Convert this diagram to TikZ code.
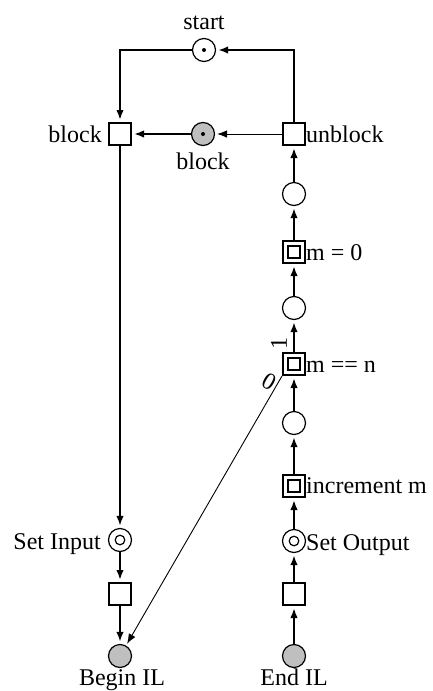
\documentclass[tikz,border=0pt]{standalone}
\usepackage{fontspec}
\setmainfont{Liberation Serif}
\usetikzlibrary{arrows.meta}
\begin{document}
\begin{tikzpicture}[x=1pt,y=-1pt,
  every node/.style={font=\fontsize{24}{28}\selectfont},
  place/.style={circle,draw,line width=1.2pt,minimum size=23pt,inner sep=0pt},
  gplace/.style={place,fill=black!25},
  token/.style={path picture={\fill[black] (path picture bounding box.center) circle (2pt);}},
  ring/.style={path picture={\draw[line width=1.2pt] (path picture bounding box.center) circle (4.8pt);}},
  trans/.style={rectangle,draw,line width=2pt,minimum size=22pt,inner sep=0pt},
  dtrans/.style={trans,path picture={\draw[line width=2pt] ([shift={(-5.6pt,-5.6pt)}]path picture bounding box.center) rectangle ([shift={(5.6pt,5.6pt)}]path picture bounding box.center);}},
  arc/.style={line width=2pt,-{Latex[length=10pt,width=7.5pt]},shorten >=2pt},
  tarc/.style={line width=0.9pt,-{Latex[length=10pt,width=7.5pt]},shorten >=2pt},
  lbl/.style={inner sep=0pt}
]
\useasboundingbox (0,0) rectangle (432,691);
% nodes
\node[place,token] (start) at (204,50) {};
\node[gplace,token] (bp) at (203,134) {};
\node[trans] (bt) at (120,134) {};
\node[trans] (ub) at (294,134) {};
\node[place] (p1) at (294,194) {};
\node[dtrans] (t1) at (294,252) {};
\node[place] (p2) at (294,308) {};
\node[dtrans] (t2) at (294,364) {};
\node[place] (p3) at (294,423) {};
\node[dtrans] (t3) at (294,486) {};
\node[place,ring] (so) at (294,541) {};
\node[trans] (t4) at (294,594) {};
\node[gplace] (endil) at (294,656) {};
\node[place,ring] (si) at (120,540) {};
\node[trans] (t5) at (120,594) {};
\node[gplace] (beginil) at (120,656) {};
% labels
\node[lbl,anchor=base] (lstart) at (204,29) {start};
\node[lbl,anchor=base] (lbp) at (203,169) {block};
\node[lbl,anchor=base east] (lbt) at (102,142) {block};
\node[lbl,anchor=base west] (lub) at (306,142) {unblock};
\node[lbl,anchor=base west] (lt1) at (306,260) {m = 0};
\node[lbl,anchor=base west] (lt2) at (306,372) {m == n};
\node[lbl,anchor=base west] (lt3) at (306,493) {increment m};
\node[lbl,anchor=base west] (lso) at (306,550) {Set Output};
\node[lbl,anchor=base east] (lsi) at (101,549) {Set Input};
\node[lbl,anchor=base] (lbi) at (122,685) {Begin IL};
\node[lbl,anchor=base] (lei) at (294,685) {End IL};
\node[lbl,rotate=90] (l1) at (279,343) {1};
\node[lbl,rotate=-30] (l0) at (269,382) {0};
% arcs
\draw[arc] (start.west) -| (bt.north);
\draw[arc] (ub.north) |- (start.east);
\draw[tarc] (ub.west) -- (bp.east);
\draw[arc] (bp.west) -- (bt.east);
\draw[arc] (bt.south) -- (si.north);
\draw[arc] (si) -- (t5);
\draw[arc] (t5) -- (beginil);
\draw[arc] (endil) -- (t4);
\draw[arc] (t4) -- (so);
\draw[arc] (so) -- (t3);
\draw[arc] (t3) -- (p3);
\draw[arc] (p3) -- (t2);
\draw[arc] (t2) -- (p2);
\draw[arc] (p2) -- (t1);
\draw[arc] (t1) -- (p1);
\draw[arc] (p1) -- (ub);
\draw[tarc] (t2.south west) -- (beginil);
\end{tikzpicture}
\end{document}
